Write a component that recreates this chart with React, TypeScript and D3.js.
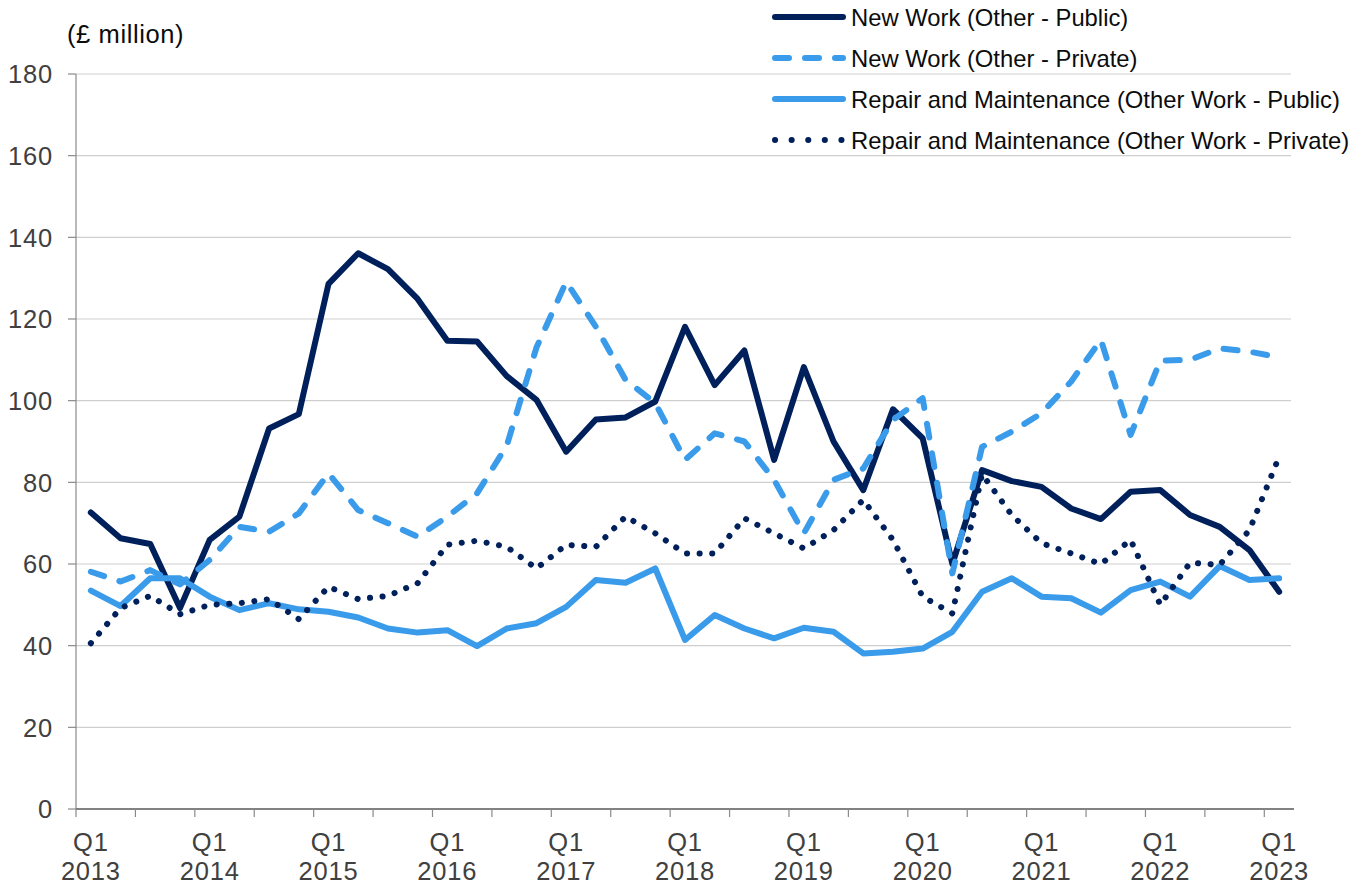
import React from "react";
import * as d3 from "d3";

// quarters Q1 2013 .. Q1 2023
const years = d3.range(2013, 2024);
const quarters: string[] = [];
years.forEach((y) => {
  for (let q = 1; q <= 4; q++) {
    if (y === 2023 && q > 1) break;
    quarters.push(`Q${q} ${y}`);
  }
});

const newWorkPublic = [72.6, 66.3, 64.9, 49.2, 65.9, 71.6, 93.2, 96.7, 128.6, 136.1, 132.2, 124.9, 114.7, 114.5, 106.0, 100.2, 87.5, 95.4, 95.9, 99.8, 118.1, 103.8, 112.3, 85.5, 108.2, 90.0, 78.1, 97.9, 90.8, 60.0, 83.0, 80.3, 78.9, 73.6, 71.0, 77.7, 78.1, 72.0, 69.1, 63.4, 53.2];
const newWorkPrivate = [58.1, 55.7, 58.5, 55.0, 61.0, 69.1, 67.9, 72.4, 82.2, 73.2, 70.0, 66.7, 71.6, 77.3, 89.0, 113.0, 129.1, 118.1, 105.1, 99.4, 85.5, 92.0, 90.0, 80.6, 67.5, 80.6, 83.4, 95.3, 100.6, 57.7, 88.7, 92.4, 96.9, 104.7, 114.9, 91.6, 109.8, 110.0, 112.8, 112.0, 110.6];
const rmPublic = [53.5, 49.7, 56.5, 56.5, 52.0, 48.7, 50.4, 48.9, 48.3, 46.9, 44.2, 43.2, 43.8, 39.9, 44.2, 45.5, 49.5, 56.1, 55.4, 58.9, 41.4, 47.5, 44.2, 41.8, 44.4, 43.4, 38.1, 38.5, 39.3, 43.4, 53.2, 56.5, 52.0, 51.6, 48.1, 53.6, 55.7, 52.0, 59.5, 56.1, 56.5];
const rmPrivate = [40.6, 49.2, 52.2, 47.7, 50.0, 50.4, 51.4, 46.5, 54.4, 51.4, 52.2, 55.3, 64.7, 65.7, 64.2, 58.9, 64.7, 64.2, 71.6, 67.5, 62.6, 62.6, 71.2, 67.5, 63.8, 68.3, 75.7, 65.9, 52.0, 47.9, 82.0, 72.0, 65.1, 62.6, 60.0, 65.9, 50.0, 60.3, 59.8, 68.3, 86.3];

const yTicks = [0, 20, 40, 60, 80, 100, 120, 140, 160, 180];

const DARK = "#00205b";
const LIGHT = "#3a9bea";

const series = [
  { name: "New Work (Other - Public)", values: newWorkPublic, color: DARK, dash: "none", legendDash: "none" },
  { name: "New Work (Other - Private)", values: newWorkPrivate, color: LIGHT, dash: "14 16", legendDash: "14 16" },
  { name: "Repair and Maintenance (Other Work - Public)", values: rmPublic, color: LIGHT, dash: "none", legendDash: "none" },
  { name: "Repair and Maintenance (Other Work - Private)", values: rmPrivate, color: DARK, dash: "0.1 12.5", legendDash: "0.1 16.5" },
];

const W = 1370;
const H = 886;
const left = 76;
const right = 1294;
const top = 74;
const bottom = 809;
const font = "'Liberation Sans', Arial, sans-serif";

export default function App() {
  const x = d3.scaleBand<string>().domain(quarters).range([left, right]);
  const cx = (q: string) => (x(q) as number) + x.bandwidth() / 2;
  const y = d3.scaleLinear().domain([0, 180]).range([bottom, top]);

  const line = d3
    .line<number>()
    .x((d, i) => cx(quarters[i]))
    .y((d) => y(d));

  const boundaryTicks = d3.range(0, quarters.length + 1, 2);

  return (
    <div style={{ position: "absolute", left: 0, top: 0 }}>
      <svg width={W} height={H} style={{ display: "block", background: "#fff" }}>
        {/* grid */}
        {yTicks.slice(1).map((t) => (
          <line key={t} x1={left} x2={1291} y1={y(t)} y2={y(t)} stroke="#cfcfcf" strokeWidth={1.2} />
        ))}
        {/* y axis */}
        <line x1={left} x2={left} y1={top} y2={bottom} stroke="#8a8a8a" strokeWidth={1.2} />
        {yTicks.map((t) => (
          <g key={t}>
            <line x1={left - 8} x2={left} y1={y(t)} y2={y(t)} stroke="#8a8a8a" strokeWidth={1.2} />
            <text x={53} y={y(t)} dy="0.36em" textAnchor="end" fontFamily={font} fontSize={25.5} letterSpacing={0.8} fill="#404040">
              {t}
            </text>
          </g>
        ))}
        {/* x axis */}
        <line x1={left} x2={right} y1={bottom} y2={bottom} stroke="#595959" strokeWidth={1.3} />
        {boundaryTicks.map((k) => {
          const px = left + k * x.step();
          return <line key={k} x1={px} x2={px} y1={bottom} y2={bottom + 8} stroke="#8a8a8a" strokeWidth={1.2} />;
        })}
        {quarters.map((q, i) =>
          i % 4 === 0 ? (
            <text key={q} x={cx(q)} textAnchor="middle" fontFamily={font} fontSize={25.5} letterSpacing={0.8} fill="#404040">
              <tspan x={cx(q)} y={851}>{q.split(" ")[0]}</tspan>
              <tspan x={cx(q)} y={880}>{q.split(" ")[1]}</tspan>
            </text>
          ) : null
        )}
        {/* series */}
        {series.map((s) => (
          <path
            key={s.name}
            d={line(s.values) as string}
            fill="none"
            stroke={s.color}
            strokeWidth={6}
            strokeLinejoin="round"
            strokeLinecap="round"
            strokeDasharray={s.dash}
          />
        ))}
        {/* unit label */}
        <text x={67} y={43} fontFamily={font} fontSize={25.5} letterSpacing={0.6} fill="#0b0c0c">
          (£ million)
        </text>
        {/* legend */}
        {series.map((s, i) => {
          const ly = 17 + i * 41;
          return (
            <g key={s.name}>
              <line
                x1={775}
                x2={843}
                y1={ly}
                y2={ly}
                stroke={s.color}
                strokeWidth={6}
                strokeLinecap="round"
                strokeDasharray={s.legendDash}
              />
              <text x={851} y={ly} dy="0.36em" fontFamily={font} fontSize={23.8} fill="#0b0c0c">
                {s.name}
              </text>
            </g>
          );
        })}
      </svg>
    </div>
  );
}
